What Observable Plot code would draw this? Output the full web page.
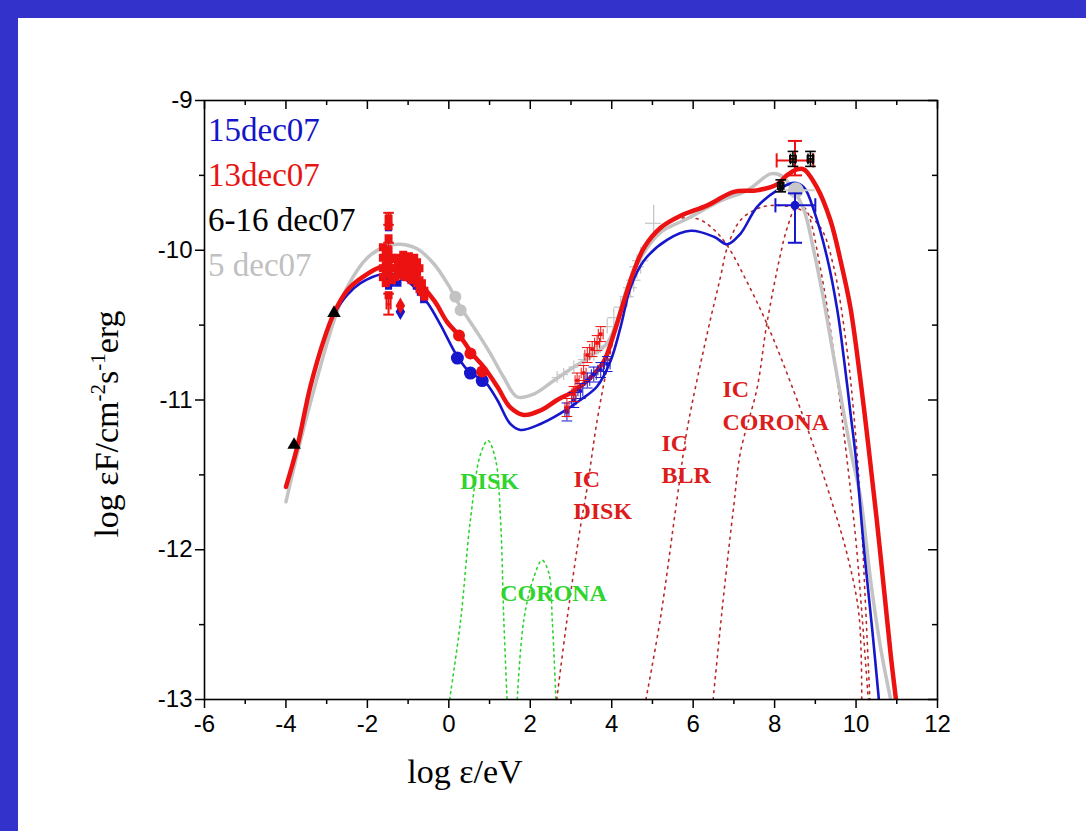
<!DOCTYPE html>
<html><head><meta charset="utf-8">
<script src="https://cdn.jsdelivr.net/npm/d3@7"></script>
<script src="https://cdn.jsdelivr.net/npm/@observablehq/plot@0.6"></script>
<style>
html,body{margin:0;padding:0;background:#fff;width:1086px;height:831px;overflow:hidden;}
#wrap{position:relative;width:1086px;height:831px;}
#chart{position:absolute;left:0;top:0;}
.bl{position:absolute;background:#3333cc;}
</style></head><body>
<div id="wrap">
<div id="chart"></div>
<div class="bl" style="left:0;top:0;width:18px;height:831px"></div>
<div class="bl" style="left:0;top:0;width:1086px;height:18px"></div>
</div>
<script>
// ---------- axes ----------
const xMajor = [-6,-4,-2,0,2,4,6,8,10,12];
const xMinor = [-5,-3,-1,1,3,5,7,9,11];
const yMajor = [-13,-12,-11,-10,-9];
const yMinor = [-12.5,-11.5,-10.5,-9.5];

// ---------- legend ----------
const legendLabels = ["15dec07","13dec07","6-16 dec07","5 dec07"];
const legendColors = ["#1414c8","#e81414","#000000","#c0c0c0"];

// ---------- model curves ----------
const redX = [-4.0,-3.72,-3.4,-3.07,-2.82,-2.5,-2.17,-1.64,-1.2,-0.8,-0.35,-0.04,0.29,0.57,0.86,1.19,1.51,1.84,2.25,2.66,3.07,3.48,3.81,4.05,4.3,4.54,4.8,5.2,5.69,6.35,7.0,7.57,8.06,8.3,8.55,8.72,9.04,9.37,9.62,9.86,10.1,10.3,10.5,10.7,10.85,10.98];
const redY = [-11.58,-11.31,-10.91,-10.6,-10.42,-10.27,-10.19,-10.11,-10.13,-10.2,-10.34,-10.48,-10.58,-10.69,-10.78,-10.91,-11.05,-11.1,-11.07,-11.0,-10.94,-10.85,-10.74,-10.56,-10.34,-10.14,-9.98,-9.85,-9.77,-9.7,-9.61,-9.6,-9.56,-9.5,-9.46,-9.46,-9.58,-9.8,-10.07,-10.38,-10.85,-11.3,-11.78,-12.3,-12.7,-13.0];

const blueX = [-4.0,-3.72,-3.4,-3.07,-2.82,-2.5,-2.17,-1.64,-1.2,-0.8,-0.5,-0.2,0.21,0.53,0.86,1.19,1.51,1.76,2.25,2.74,3.23,3.64,3.97,4.22,4.46,4.79,5.36,5.94,6.51,6.84,7.16,7.57,8.06,8.47,8.72,8.96,9.29,9.54,9.7,9.86,10.0,10.19,10.4,10.56];
const blueY = [-11.58,-11.31,-10.91,-10.6,-10.43,-10.3,-10.22,-10.16,-10.17,-10.26,-10.36,-10.5,-10.71,-10.82,-10.87,-11.0,-11.16,-11.2,-11.16,-11.09,-11.0,-10.91,-10.74,-10.51,-10.25,-10.07,-9.93,-9.87,-9.91,-9.96,-9.89,-9.71,-9.6,-9.55,-9.58,-9.73,-10.05,-10.4,-10.72,-11.08,-11.4,-11.98,-12.54,-13.0];

const grayX = [-4.0,-3.64,-3.23,-2.82,-2.5,-2.0,-1.51,-1.19,-0.78,-0.37,-0.04,0.29,0.7,1.02,1.35,1.68,2.09,2.58,3.07,3.48,3.89,4.13,4.38,4.71,5.2,5.85,6.67,7.33,7.9,8.15,8.47,8.72,8.96,9.21,9.45,9.7,9.9,10.11,10.36,10.6,10.85];
const grayY = [-11.68,-11.27,-10.85,-10.47,-10.25,-10.05,-9.97,-9.96,-9.99,-10.09,-10.22,-10.38,-10.55,-10.69,-10.85,-10.98,-10.96,-10.87,-10.78,-10.71,-10.62,-10.47,-10.25,-10.05,-9.88,-9.79,-9.67,-9.6,-9.49,-9.5,-9.6,-9.73,-10.0,-10.34,-10.71,-11.09,-11.38,-11.65,-12.21,-12.65,-13.0];

// ---------- components (dotted) ----------
const diskX = [0.02,0.29,0.53,0.78,0.96,1.15,1.27,1.35,1.43];
const diskY = [-13,-12.47,-11.8,-11.36,-11.27,-11.4,-11.8,-12.47,-13];
const coronaX = [1.68,1.84,2.09,2.29,2.46,2.54,2.63];
const coronaY = [-13,-12.47,-12.18,-12.07,-12.16,-12.47,-13];
const icDiskX = [2.65,2.9,3.23,3.4,3.64,3.89,4.2,4.6,5.0,5.5,6.1,6.5,6.84,7.3,7.81,8.47,8.96,9.37,9.78,10.07,10.14];
const icDiskY = [-13,-12.47,-11.85,-11.58,-11.14,-10.78,-10.42,-10.1,-9.92,-9.8,-9.79,-9.86,-9.97,-10.2,-10.49,-10.94,-11.31,-11.65,-12.03,-12.43,-13];
const icBlrX = [4.84,5.2,5.61,5.85,6.35,6.67,6.84,7.16,7.6,8.0,8.64,9.13,9.45,9.78,9.95,10.1,10.22,10.34];
const icBlrY = [-13,-12.45,-11.65,-11.2,-10.55,-10.18,-9.98,-9.8,-9.72,-9.7,-9.73,-9.85,-10.11,-10.67,-11.11,-11.65,-12.3,-13];
const icCorX = [6.49,6.75,7.0,7.16,7.57,7.81,8.15,8.31,8.55,8.75,8.88,9.13,9.29,9.54,9.8,10.0,10.15,10.3];
const icCorY = [-13,-12.3,-11.7,-11.35,-10.92,-10.49,-10.02,-9.85,-9.7,-9.72,-9.8,-10.13,-10.38,-10.87,-11.45,-11.95,-12.45,-13];

// ---------- observations ----------
const triX = [-3.8,-2.82], triY = [-11.3,-10.42];
const redDotX = [0.25,0.53,0.82], redDotY = [-10.57,-10.69,-10.81];
const blueDotX = [0.21,0.53,0.82], blueDotY = [-10.72,-10.82,-10.87];
const grayDotX = [0.16,0.29], grayDotY = [-10.31,-10.4];

// optical / UV block
const redOptX = [-1.62,-1.62,-1.62,-1.62,-1.55,-1.55,-1.55,-1.55,-1.48,-1.48,-1.48,-1.48,-1.48,-1.48,-1.48,-1.4,-1.4,-1.4,-1.32,-1.32,-1.32,-1.25,-1.25,-1.25,-1.19,-1.19,-1.12,-1.12,-1.12,-1.05,-1.05,-1.05,-0.98,-0.98,-0.98,-0.92,-0.92,-0.92,-0.85,-0.85,-0.85,-0.78,-0.78,-0.78,-0.72,-0.72,-0.72,-0.66,-0.66,-0.6,-0.6];
const redOptY = [-9.98,-10.05,-10.12,-10.18,-10.02,-10.1,-10.16,-10.22,-9.79,-9.84,-9.92,-10.0,-10.08,-10.15,-10.3,-10.05,-10.12,-10.2,-10.06,-10.12,-10.18,-10.05,-10.1,-10.16,-10.08,-10.14,-10.03,-10.1,-10.17,-10.05,-10.12,-10.18,-10.04,-10.1,-10.16,-10.07,-10.13,-10.2,-10.05,-10.12,-10.18,-10.08,-10.15,-10.22,-10.12,-10.2,-10.26,-10.22,-10.28,-10.27,-10.31];
const blueOptX = [-1.48,-1.48,-1.48,-1.42,-1.33,-1.25,-1.1,-1.0,-0.9,-0.8,-0.7,-0.62];
const blueOptY = [-9.85,-10.18,-10.24,-10.22,-10.2,-10.22,-10.18,-10.16,-10.18,-10.24,-10.28,-10.33];
const diamRedX = [-1.19], diamRedY = [-10.37];
const diamBlueX = [-1.19], diamBlueY = [-10.41];
const redErrX = [-1.48,-1.48,-1.48], redErrY = [-9.79,-10.36,-10.0], redErrDy = [0.04,0.07,0.05], redErrDx = [0.05,0.05,0.05];

// X-ray
const xrRedX = [2.9,3.07,3.15,3.31,3.4,3.52,3.64,3.73];
const xrRedY = [-11.05,-10.96,-10.87,-10.82,-10.7,-10.66,-10.62,-10.56];
const xrRedDx = [0.05,0.05,0.05,0.06,0.06,0.06,0.06,0.06];
const xrRedDy = [0.06,0.05,0.05,0.05,0.05,0.05,0.05,0.05];
const xrBlueX = [2.9,3.07,3.23,3.4,3.56,3.73,3.89];
const xrBlueY = [-11.08,-11.0,-10.94,-10.87,-10.83,-10.8,-10.76];
const xrBlueDx = [0.05,0.05,0.06,0.06,0.06,0.07,0.07];
const xrBlueDy = [0.06,0.05,0.05,0.05,0.05,0.05,0.05];
const xrGrayX = [2.66,2.82,3.07,3.31,3.56,3.72,3.89,4.05,4.22,4.38,4.46,4.54,4.62,4.71,5.03];
const xrGrayY = [-10.85,-10.83,-10.78,-10.73,-10.69,-10.64,-10.51,-10.45,-10.38,-10.31,-10.25,-10.2,-10.11,-10.07,-9.82];
const xrGrayDx = [0.12,0.12,0.12,0.13,0.13,0.14,0.15,0.15,0.16,0.17,0.17,0.18,0.18,0.2,0.2];
const xrGrayDy = [0.04,0.04,0.04,0.04,0.05,0.05,0.05,0.06,0.06,0.07,0.07,0.08,0.08,0.09,0.12];

// gamma-ray
const gRedX = [8.5], gRedY = [-9.4], gRedLo = [8.05], gRedHi = [8.95], gRedYlo = [-9.5], gRedYhi = [-9.27];
const gBlueX = [8.5], gBlueY = [-9.7], gBlueLo = [8.02], gBlueHi = [9.0], gBlueYlo = [-9.95], gBlueYhi = [-9.62];
const gGrayX = [8.52], gGrayY = [-9.6], gGrayLo = [8.05], gGrayHi = [9.0];
const gBlackX = [8.45,8.88,8.15], gBlackY = [-9.39,-9.39,-9.57], gBlackDx = [0.06,0.06,0.04], gBlackDy = [0.05,0.05,0.04];

// annotations
const annX = [1.0,2.57,3.06,5.22,6.72];
const annY = [-11.54,-12.29,-11.62,-11.38,-11.02];
const annText = ["DISK","CORONA","IC\nDISK","IC\nBLR","IC\nCORONA"];
const annKind = ["green","green","red","red","red"];

// ---------- helpers ----------
const pts = (xs, ys) => xs.map((x,i) => ({x, y: ys[i]}));
const errPts = (xs, ys, dxs, dys) => xs.map((x,i) => ({x, y: ys[i], x1: x - dxs[i], x2: x + dxs[i], y1: ys[i] - dys[i], y2: ys[i] + dys[i]}));
const capH = {draw(ctx, size){ const r = Math.sqrt(size); ctx.moveTo(-r,0); ctx.lineTo(r,0); }};
const capV = {draw(ctx, size){ const r = Math.sqrt(size); ctx.moveTo(0,-r); ctx.lineTo(0,r); }};
function errorBars(data, color, w, capR) {
  return [
    Plot.ruleY(data, {y:"y", x1:"x1", x2:"x2", stroke: color, strokeWidth: w}),
    Plot.ruleX(data, {x:"x", y1:"y1", y2:"y2", stroke: color, strokeWidth: w}),
    Plot.dot(data, {x:"x1", y:"y", symbol: capV, r: capR, stroke: color, strokeWidth: w, fill: "none"}),
    Plot.dot(data, {x:"x2", y:"y", symbol: capV, r: capR, stroke: color, strokeWidth: w, fill: "none"}),
    Plot.dot(data, {x:"x", y:"y1", symbol: capH, r: capR, stroke: color, strokeWidth: w, fill: "none"}),
    Plot.dot(data, {x:"x", y:"y2", symbol: capH, r: capR, stroke: color, strokeWidth: w, fill: "none"})
  ];
}

const RED = "#ec1212", BLUE = "#1616cc", GRAY = "#c3c3c3", GREEN = "#2fd42f", DRED = "#b82a2a";
const serif = "Liberation Serif, Times New Roman, DejaVu Serif, serif";
const sans = "Liberation Sans, Arial, sans-serif";
const frameH = 599, frameW = 733;

const xrGray = errPts(xrGrayX, xrGrayY, xrGrayDx, xrGrayDy);
const gRed = gRedX.map((x,i)=>({x, y:gRedY[i], x1:gRedLo[i], x2:gRedHi[i], y1:gRedYlo[i], y2:gRedYhi[i]}));
const gBlue = gBlueX.map((x,i)=>({x, y:gBlueY[i], x1:gBlueLo[i], x2:gBlueHi[i], y1:gBlueYlo[i], y2:gBlueYhi[i]}));
const gGray = gGrayX.map((x,i)=>({x, y:gGrayY[i], x1:gGrayLo[i], x2:gGrayHi[i], y1:gGrayY[i], y2:gGrayY[i]}));

const ann = annX.map((x,i)=>({x, y: annY[i], text: annText[i], kind: annKind[i]}));

const chart = Plot.plot({
  width: 1086, height: 831,
  marginLeft: 204, marginRight: 149, marginTop: 100, marginBottom: 132,
  x: {domain: [-6, 12]},
  y: {domain: [-13, -9]},
  style: {fontFamily: sans, fontSize: "24px", background: "transparent", color: "black", overflow: "visible"},
  marks: [
    Plot.line(pts(diskX, diskY), {x:"x", y:"y", stroke: GREEN, strokeWidth: 1.6, strokeDasharray: "2,4", curve: "catmull-rom"}),
    Plot.line(pts(coronaX, coronaY), {x:"x", y:"y", stroke: GREEN, strokeWidth: 1.6, strokeDasharray: "2,4", curve: "catmull-rom"}),
    Plot.line(pts(icDiskX, icDiskY), {x:"x", y:"y", stroke: DRED, strokeWidth: 1.6, strokeDasharray: "2,5", curve: "catmull-rom"}),
    Plot.line(pts(icBlrX, icBlrY), {x:"x", y:"y", stroke: DRED, strokeWidth: 1.6, strokeDasharray: "2,5", curve: "catmull-rom"}),
    Plot.line(pts(icCorX, icCorY), {x:"x", y:"y", stroke: DRED, strokeWidth: 1.6, strokeDasharray: "2,5", curve: "catmull-rom"}),
    Plot.ruleY(xrGray, {y:"y", x1:"x1", x2:"x2", stroke: "#c8c8c8", strokeWidth: 1.3}),
    Plot.ruleX(xrGray, {x:"x", y1:"y1", y2:"y2", stroke: "#c8c8c8", strokeWidth: 1.3}),
    Plot.line(pts(grayX, grayY), {x:"x", y:"y", stroke: GRAY, strokeWidth: 3.5, curve: "catmull-rom", clip: true}),
    Plot.line(pts(blueX, blueY), {x:"x", y:"y", stroke: BLUE, strokeWidth: 2.6, curve: "catmull-rom", clip: true}),
    Plot.line(pts(redX, redY), {x:"x", y:"y", stroke: RED, strokeWidth: 4.5, curve: "catmull-rom", clip: true}),
    Plot.dot(pts(triX, triY), {x:"x", y:"y", symbol: "triangle", r: 5, fill: "black"}),
    Plot.dot(pts(blueOptX, blueOptY), {x:"x", y:"y", symbol: "square", r: 4, fill: BLUE}),
    Plot.dot(pts(redOptX, redOptY), {x:"x", y:"y", symbol: "square", r: 4.5, fill: RED}),
    Plot.dot(pts(diamBlueX, diamBlueY), {x:"x", y:"y", symbol: "diamond", r: 5, fill: BLUE}),
    Plot.dot(pts(diamRedX, diamRedY), {x:"x", y:"y", symbol: "diamond", r: 5, fill: RED}),
    ...errorBars(errPts(redErrX, redErrY, redErrDx, redErrDy), RED, 2, 3),
    Plot.dot(pts(grayDotX, grayDotY), {x:"x", y:"y", r: 6, fill: GRAY}),
    Plot.dot(pts(blueDotX, blueDotY), {x:"x", y:"y", r: 6.5, fill: BLUE}),
    Plot.dot(pts(redDotX, redDotY), {x:"x", y:"y", r: 6, fill: RED}),
    ...errorBars(errPts(xrBlueX, xrBlueY, xrBlueDx, xrBlueDy), BLUE, 1, 3),
    Plot.dot(pts(xrBlueX, xrBlueY), {x:"x", y:"y", symbol:"square", r: 2, fill: BLUE}),
    ...errorBars(errPts(xrRedX, xrRedY, xrRedDx, xrRedDy), RED, 1, 3),
    Plot.dot(pts(xrRedX, xrRedY), {x:"x", y:"y", symbol:"square", r: 2, fill: RED}),
    Plot.ruleY(gGray, {y:"y", x1:"x1", x2:"x2", stroke: "#cfcfcf", strokeWidth: 2}),
    Plot.dot(gGray, {x:"x", y:"y", r: 8, fill: "#c8c8c8"}),
    ...errorBars(gBlue, BLUE, 2, 4),
    Plot.dot(gBlue, {x:"x", y:"y", r: 4.5, fill: BLUE}),
    ...errorBars(gRed, RED, 2, 4),
    ...errorBars(errPts(gBlackX, gBlackY, gBlackDx, gBlackDy), "black", 1.6, 3),
    Plot.dot(pts(gBlackX, gBlackY), {x:"x", y:"y", symbol:"square", r: 3.5, stroke: "black", strokeWidth: 1.5, fill: "none"}),
    Plot.text(ann.filter(d => d.kind === "green"), {x:"x", y:"y", text:"text", fill: GREEN, fontFamily: serif, fontWeight: "bold", fontSize: 24, textAnchor: "middle"}),
    Plot.text(ann.filter(d => d.kind === "red"), {x:"x", y:"y", text:"text", fill: "#dd1c1c", fontFamily: serif, fontWeight: "bold", fontSize: 24, textAnchor: "start", lineHeight: 1.35}),
    Plot.frame({stroke: "black", strokeWidth: 1.6}),
    Plot.axisX(xMajor, {anchor: "bottom", tickSize: 9, tickPadding: 6, label: null, strokeWidth: 1.5, fontSize: 24, fontFamily: sans, tickFormat: d => String(d)}),
    Plot.axisX(xMinor, {anchor: "bottom", tickSize: 5, label: null, strokeWidth: 1.5, tickFormat: () => ""}),
    Plot.axisY(yMajor, {anchor: "left", tickSize: 9, tickPadding: 3, label: null, strokeWidth: 1.5, fontSize: 24, fontFamily: sans, tickFormat: d => String(d)}),
    Plot.axisY(yMinor, {anchor: "left", tickSize: 5, label: null, strokeWidth: 1.5, tickFormat: () => ""}),
    Plot.ruleX(xMajor, {insetBottom: frameH - 9, stroke: "black", strokeWidth: 1.5}),
    Plot.ruleX(xMinor, {insetBottom: frameH - 5, stroke: "black", strokeWidth: 1.5}),
    Plot.ruleY(yMajor, {insetLeft: frameW - 9, stroke: "black", strokeWidth: 1.5}),
    Plot.ruleY(yMinor, {insetLeft: frameW - 5, stroke: "black", strokeWidth: 1.5})
  ]
});
document.getElementById("chart").appendChild(chart);

const svg = d3.select(chart);
// legend (top-left inside frame)
legendLabels.forEach((t, i) => {
  svg.append("text")
    .attr("x", 208).attr("y", 141 + i * 45)
    .attr("text-anchor", "start")
    .attr("font-family", serif).attr("font-size", 33).attr("fill", legendColors[i])
    .text(t);
});
// axis titles
svg.append("text")
  .attr("x", 465).attr("y", 783)
  .attr("text-anchor", "middle")
  .attr("font-family", serif).attr("font-size", 34).attr("fill", "black")
  .text("log ε/eV");
const yt = svg.append("text")
  .attr("transform", "translate(118,424) rotate(-90)")
  .attr("text-anchor", "middle")
  .attr("font-family", serif).attr("font-size", 34).attr("fill", "black");
yt.append("tspan").text("log εF/cm");
yt.append("tspan").attr("dy", -13).attr("font-size", 21).text("-2");
yt.append("tspan").attr("dy", 13).text("s");
yt.append("tspan").attr("dy", -13).attr("font-size", 21).text("-1");
yt.append("tspan").attr("dy", 13).text("erg");
</script>
</body></html>
